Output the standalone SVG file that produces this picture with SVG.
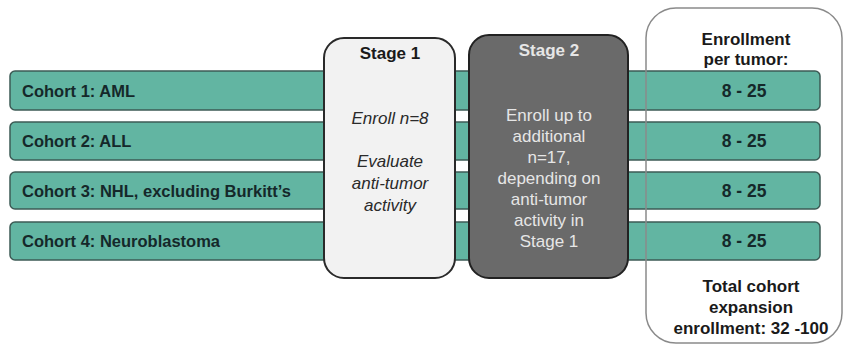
<svg xmlns="http://www.w3.org/2000/svg" width="845" height="353" viewBox="0 0 845 353">
<style>
.bar{fill:#62b5a2;stroke:#3d5b55;stroke-width:1.5}
.lbl{font-family:"Liberation Sans",Arial,sans-serif;font-weight:bold;font-size:16.5px;fill:#15282a}
.num{font-family:"Liberation Sans",Arial,sans-serif;font-weight:bold;font-size:17.5px;fill:#15282a;text-anchor:middle}
.hdr{font-family:"Liberation Sans",Arial,sans-serif;font-weight:bold;font-size:17px;fill:#1a1a1a;text-anchor:middle}
.s1{font-family:"Liberation Sans",Arial,sans-serif;font-style:italic;font-size:17px;fill:#2a2a2a;text-anchor:middle}
.s2{font-family:"Liberation Sans",Arial,sans-serif;font-size:17px;fill:#e6e6e6;text-anchor:middle}
</style>
<rect width="845" height="353" fill="#ffffff"/>
<g id="cohort1"><rect class="bar" x="10" y="71" width="810" height="39" rx="5"/><text class="lbl" x="22" y="97">Cohort 1: AML</text><text class="num" x="744" y="97">8 - 25</text></g>
<g id="cohort2"><rect class="bar" x="10" y="122" width="810" height="38" rx="5"/><text class="lbl" x="22" y="147">Cohort 2: ALL</text><text class="num" x="744" y="147">8 - 25</text></g>
<g id="cohort3"><rect class="bar" x="10" y="172" width="810" height="37" rx="5"/><text class="lbl" x="22" y="197">Cohort 3: NHL, excluding Burkitt’s</text><text class="num" x="744" y="197">8 - 25</text></g>
<g id="cohort4"><rect class="bar" x="10" y="222" width="810" height="38" rx="5"/><text class="lbl" x="22" y="247">Cohort 4: Neuroblastoma</text><text class="num" x="744" y="247">8 - 25</text></g>
<g id="enrollment">
<rect x="646" y="8" width="196" height="335" rx="30" fill="none" stroke="#8a8a8a" stroke-width="1.5"/>
<text class="hdr" x="746" y="45">Enrollment</text>
<text class="hdr" x="746" y="65">per tumor:</text>
<text class="hdr" x="751" y="292">Total cohort</text>
<text class="hdr" x="751" y="313">expansion</text>
<text class="hdr" x="751" y="334">enrollment: 32 -100</text>
</g>
<g id="stage1">
<rect x="324" y="38" width="131" height="240" rx="20" fill="#f2f2f2" stroke="#2a2a2a" stroke-width="2"/>
<text class="hdr" x="390" y="59">Stage 1</text>
<text class="s1" x="390" y="124">Enroll n=8</text>
<text class="s1" x="390" y="167">Evaluate</text>
<text class="s1" x="390" y="189">anti-tumor</text>
<text class="s1" x="390" y="211">activity</text>
</g>
<g id="stage2">
<rect x="469" y="35" width="159" height="243" rx="20" fill="#6a6a6a" stroke="#222222" stroke-width="2"/>
<text class="hdr" x="549" y="56" style="fill:#e6e6e6">Stage 2</text>
<text class="s2" x="549" y="121">Enroll up to</text>
<text class="s2" x="549" y="142">additional</text>
<text class="s2" x="549" y="163">n=17,</text>
<text class="s2" x="549" y="184">depending on</text>
<text class="s2" x="549" y="205">anti-tumor</text>
<text class="s2" x="549" y="226">activity in</text>
<text class="s2" x="549" y="247">Stage 1</text>
</g>
</svg>
